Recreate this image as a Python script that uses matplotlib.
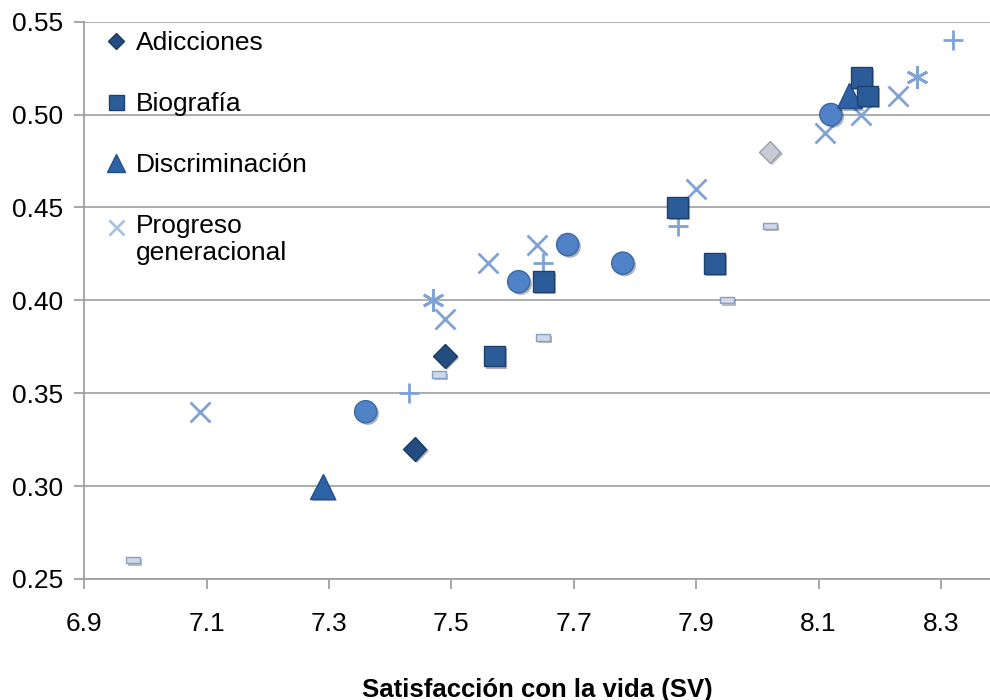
import numpy as np
import matplotlib.pyplot as plt
from matplotlib.path import Path
from matplotlib import patheffects as pe

plt.rcParams['font.family'] = ['Liberation Sans', 'DejaVu Sans']

# series shown in the legend
adic_x = [7.49, 7.44]
adic_y = [0.37, 0.32]
bio_x = [7.57, 7.65, 7.87, 7.93, 8.17, 8.18]
bio_y = [0.37, 0.41, 0.45, 0.42, 0.52, 0.51]
disc_x = [7.29, 8.15]
disc_y = [0.30, 0.51]
prog_x = [7.09, 7.49, 7.56, 7.64, 7.90, 8.11, 8.17, 8.23]
prog_y = [0.34, 0.39, 0.42, 0.43, 0.46, 0.49, 0.50, 0.51]

# series whose names are not shown
circ_x = [7.36, 7.61, 7.69, 7.78, 8.12]
circ_y = [0.34, 0.41, 0.43, 0.42, 0.50]
plus_x = [7.43, 7.65, 7.87, 8.32]
plus_y = [0.35, 0.42, 0.44, 0.54]
ast_x = [7.47, 8.26]
ast_y = [0.40, 0.52]
dash_x = [6.98, 7.48, 7.65, 7.95, 8.02]
dash_y = [0.26, 0.36, 0.38, 0.40, 0.44]
grey_x = [8.02]
grey_y = [0.48]

yticks = [0.25, 0.30, 0.35, 0.40, 0.45, 0.50, 0.55]
xticks = [6.9, 7.1, 7.3, 7.5, 7.7, 7.9, 8.1, 8.3]

dash_marker = Path([(-1, -0.45), (1, -0.45), (1, 0.45), (-1, 0.45), (-1, -0.45)],
                   [Path.MOVETO, Path.LINETO, Path.LINETO, Path.LINETO, Path.CLOSEPOLY])

fig = plt.figure(figsize=(9.9, 7), dpi=100)
ax = fig.add_axes([0.085, 0.173, 0.915, 0.796])

shadow = [pe.SimplePatchShadow(offset=(1.5, -1.5), alpha=0.35), pe.Normal()]

ax.plot(dash_x, dash_y, ls='none', marker=dash_marker, ms=10, mfc='#cdd9ea',
        mec='#8aa0c0', mew=1, path_effects=shadow, zorder=3)
ax.plot(grey_x, grey_y, ls='none', marker='D', ms=11, mfc='#c9cad3',
        mec='#9b9daa', mew=1, path_effects=shadow, zorder=3)
ax.plot(plus_x, plus_y, ls='none', marker='+', ms=15, mew=2, color='#7fa3d4', zorder=3)
ax.plot(ast_x, ast_y, ls='none', marker=(6, 2, 0), ms=16, mew=2, color='#7fa3d4', zorder=3)
pr, = ax.plot(prog_x, prog_y, ls='none', marker='x', ms=15, mew=2, color='#7fa3d4', zorder=3)
ax.plot(circ_x, circ_y, ls='none', marker='o', ms=16, mfc='#4f82c6',
        mec='#3b69a6', mew=1, path_effects=shadow, zorder=4)
ad, = ax.plot(adic_x, adic_y, ls='none', marker='D', ms=12, mfc='#234d80',
              mec='#1a3b63', mew=1, path_effects=shadow, zorder=4)
di, = ax.plot(disc_x, disc_y, ls='none', marker='^', ms=18, mfc='#2e62a6',
              mec='#234f88', mew=1, path_effects=shadow, zorder=4)
bi, = ax.plot(bio_x, bio_y, ls='none', marker='s', ms=15, mfc='#2c5c98',
              mec='#1d416e', mew=1, path_effects=shadow, zorder=5)

leg = ax.legend([ad, bi, di, pr],
                ['Adicciones', 'Biografía', 'Discriminación', 'Progreso\ngeneracional'],
                loc='upper left', bbox_to_anchor=(-0.008, 1.0), frameon=False,
                fontsize=19, labelspacing=1.39, handletextpad=-0.35,
                handlelength=2.2, borderaxespad=0.0, borderpad=0.37, markerscale=0.72)
for h in leg.legend_handles:
    h.set_path_effects([])
# put the marker of the two-line entry next to its first line
hx = leg.legend_handles[3]
hx.set_ydata(np.asarray(hx.get_ydata()) + 9)
hx.set_color('#a9c1e3')

ax.set_xlim(6.9, 8.38)
ax.set_ylim(0.25, 0.55)
ax.set_yticks(yticks)
ax.set_yticklabels([f'{v:.2f}' for v in yticks])
ax.set_xticks(xticks)
ax.set_xticklabels([f'{v:.1f}' for v in xticks])
ax.tick_params(labelsize=19, colors='#a0a0a0', labelcolor='black', length=7, width=1.3, pad=8)
ax.tick_params(axis='x', pad=17)

ax.yaxis.grid(True, color='#a6a6a6', lw=1.3)
ax.set_axisbelow(True)
for s in ['top', 'right']:
    ax.spines[s].set_visible(False)
for s in ['left', 'bottom']:
    ax.spines[s].set_color('#a0a0a0')
    ax.spines[s].set_linewidth(1.3)

ax.set_xlabel('Satisfacción con la vida (SV)', fontsize=18.5, fontweight='bold', labelpad=30)

fig.savefig('out.png', dpi=100)
